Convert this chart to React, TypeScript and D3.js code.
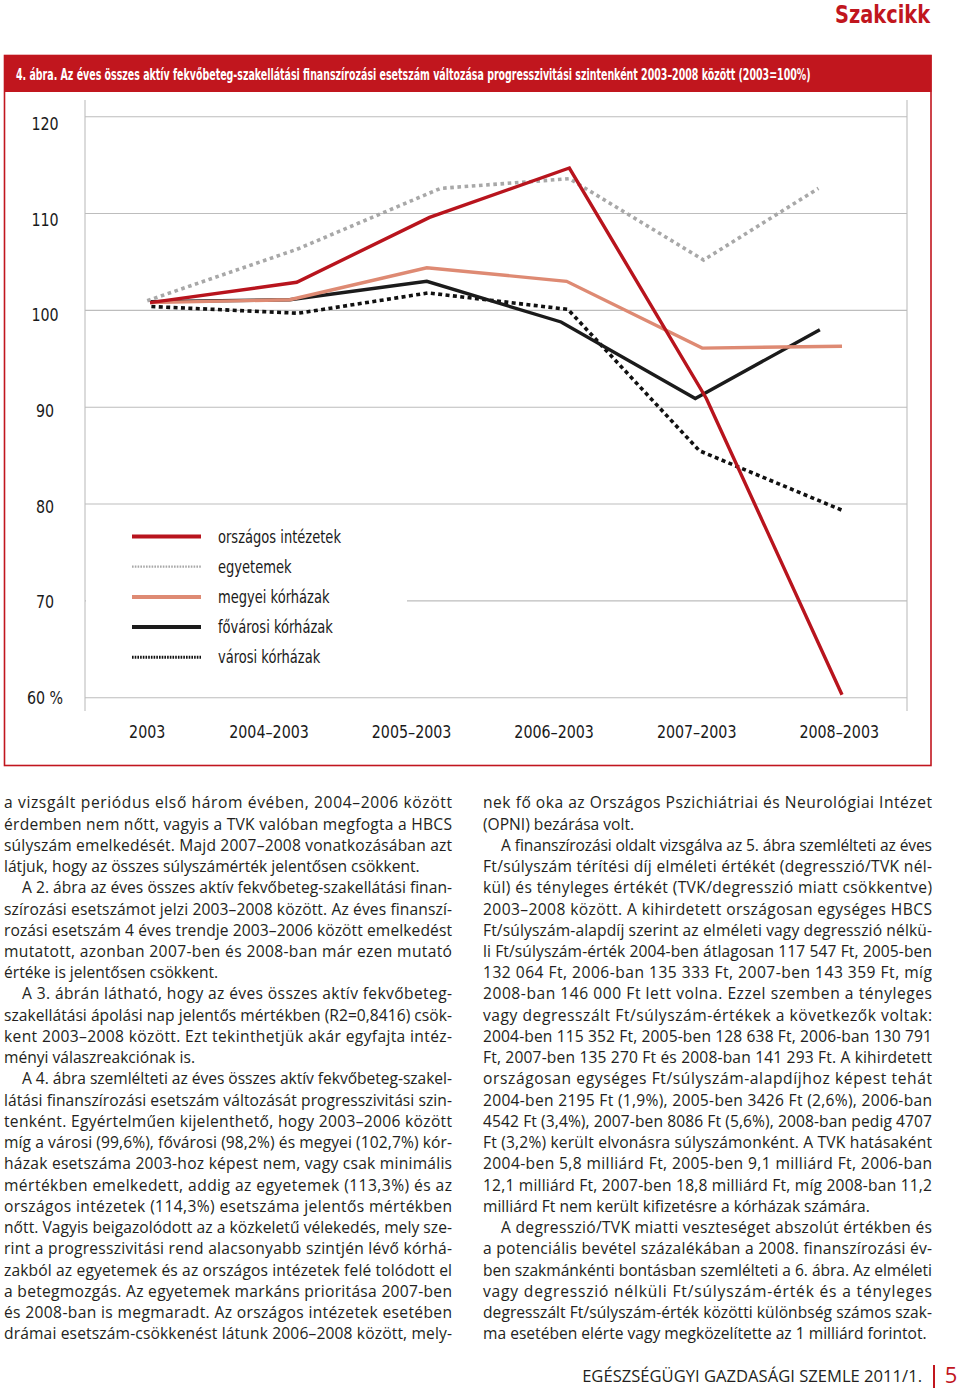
import React, { useLayoutEffect, useRef, useState } from "react";
import * as d3 from "d3";

// chart data (2003 = 100%)
const periods = ["2003", "2004–2003", "2005–2003", "2006–2003", "2007–2003", "2008–2003"];
// where each period label sits on the x index scale
const periodTickPos = [-0.02, 0.86, 1.89, 2.92, 3.95, 4.98];
const yTicks = [120, 110, 100, 90, 80, 70, 60];

const seriesNames = [
	"országos intézetek",
	"egyetemek",
	"megyei kórházak",
	"fővárosi kórházak",
	"városi kórházak",
];

// x index of each vertex (the original drawing is slightly hand placed) and value in %
const orszagosPos = [0, 1.06, 2.02, 3.03, 4.02, 5.0];
const orszagosVal = [100.8, 102.9, 109.6, 114.7, 90.9, 60.3];
const egyetemekPos = [-0.02, 1.06, 2.1, 3.03, 4.0, 4.83];
const egyetemekVal = [101.0, 106.3, 112.6, 113.6, 105.2, 112.6];
const megyeiPos = [0, 1.01, 2.0, 3.01, 3.99, 5.0];
const megyeiVal = [100.8, 101.1, 104.4, 103.0, 96.1, 96.3];
const fovarosiPos = [0, 1.01, 2.0, 2.97, 3.94, 4.84];
const fovarosiVal = [100.9, 101.1, 103.0, 98.8, 90.9, 98.0];
const varosiPos = [0.01, 1.07, 2.01, 3.02, 3.97, 5.01];
const varosiVal = [100.4, 99.7, 101.8, 100.1, 85.5, 79.3];

const seriesPos = [orszagosPos, egyetemekPos, megyeiPos, fovarosiPos, varosiPos];
const seriesVal = [orszagosVal, egyetemekVal, megyeiVal, fovarosiVal, varosiVal];

const title =
	"4. ábra. Az éves összes aktív fekvőbeteg-szakellátási finanszírozási esetszám változása progresszivitási szintenként 2003–2008 között (2003=100%)";

// body text, paragraphs as printed lines
const leftColumn: string[][] = [
	[
		"a vizsgált periódus első három évében, 2004–2006 között",
		"érdemben nem nőtt, vagyis a TVK valóban megfogta a HBCS",
		"súlyszám emelkedését. Majd 2007–2008 vonatkozásában azt",
		"látjuk, hogy az összes súlyszámérték jelentősen csökkent.",
	],
	[
		"A 2. ábra az éves összes aktív fekvőbeteg-szakellátási finan-",
		"szírozási esetszámot jelzi 2003–2008 között. Az éves finanszí-",
		"rozási esetszám 4 éves trendje 2003–2006 között emelkedést",
		"mutatott, azonban 2007-ben és 2008-ban már ezen mutató",
		"értéke is jelentősen csökkent.",
	],
	[
		"A 3. ábrán látható, hogy az éves összes aktív fekvőbeteg-",
		"szakellátási ápolási nap jelentős mértékben (R2=0,8416) csök-",
		"kent 2003–2008 között. Ezt tekinthetjük akár egyfajta intéz-",
		"ményi válaszreakciónak is.",
	],
	[
		"A 4. ábra szemlélteti az éves összes aktív fekvőbeteg-szakel-",
		"látási finanszírozási esetszám változását progresszivitási szin-",
		"tenként. Egyértelműen kijelenthető, hogy 2003–2006 között",
		"míg a városi (99,6%), fővárosi (98,2%) és megyei (102,7%) kór-",
		"házak esetszáma 2003-hoz képest nem, vagy csak minimális",
		"mértékben emelkedett, addig az egyetemek (113,3%) és az",
		"országos intézetek (114,3%) esetszáma jelentős mértékben",
		"nőtt. Vagyis beigazolódott az a közkeletű vélekedés, mely sze-",
		"rint a progresszivitási rend alacsonyabb szintjén lévő kórhá-",
		"zakból az egyetemek és az országos intézetek felé tolódott el",
		"a betegmozgás. Az egyetemek markáns prioritása 2007-ben",
		"és 2008-ban is megmaradt. Az országos intézetek esetében",
		"drámai esetszám-csökkenést látunk 2006–2008 között, mely-",
	],
];

const rightColumn: string[][] = [
	[
		"nek fő oka az Országos Pszichiátriai és Neurológiai Intézet",
		"(OPNI) bezárása volt.",
	],
	[
		"A finanszírozási oldalt vizsgálva az 5. ábra szemlélteti az éves",
		"Ft/súlyszám térítési díj elméleti értékét (degresszió/TVK nél-",
		"kül) és tényleges értékét (TVK/degresszió miatt csökkentve)",
		"2003–2008 között. A kihirdetett országosan egységes HBCS",
		"Ft/súlyszám-alapdíj szerint az elméleti vagy degresszió nélkü-",
		"li Ft/súlyszám-érték 2004-ben átlagosan 117 547 Ft, 2005-ben",
		"132 064 Ft, 2006-ban 135 333 Ft, 2007-ben 143 359 Ft, míg",
		"2008-ban 146 000 Ft lett volna. Ezzel szemben a tényleges",
		"vagy degresszált Ft/súlyszám-értékek a következők voltak:",
		"2004-ben 115 352 Ft, 2005-ben 128 638 Ft, 2006-ban 130 791",
		"Ft, 2007-ben 135 270 Ft és 2008-ban 141 293 Ft. A kihirdetett",
		"országosan egységes Ft/súlyszám-alapdíjhoz képest tehát",
		"2004-ben 2195 Ft (1,9%), 2005-ben 3426 Ft (2,6%), 2006-ban",
		"4542 Ft (3,4%), 2007-ben 8086 Ft (5,6%), 2008-ban pedig 4707",
		"Ft (3,2%) került elvonásra súlyszámonként. A TVK hatásaként",
		"2004-ben 5,8 milliárd Ft, 2005-ben 9,1 milliárd Ft, 2006-ban",
		"12,1 milliárd Ft, 2007-ben 18,8 milliárd Ft, míg 2008-ban 11,2",
		"milliárd Ft nem került kifizetésre a kórházak számára.",
	],
	[
		"A degresszió/TVK miatti veszteséget abszolút értékben és",
		"a potenciális bevétel százalékában a 2008. finanszírozási év-",
		"ben szakmánkénti bontásban szemlélteti a 6. ábra. Az elméleti",
		"vagy degresszió nélküli Ft/súlyszám-érték és a tényleges",
		"degresszált Ft/súlyszám-érték közötti különbség számos szak-",
		"ma esetében elérte vagy megközelítette az 1 milliárd forintot.",
	],
];

const footerText = "EGÉSZSÉGÜGYI GAZDASÁGI SZEMLE 2011/1.";
const pageNumber = "5";

// styles
const RED = "#c1161e";
const NARROW = "'DejaVu Sans', sans-serif";
const BODY = "'Open Sans', 'Noto Sans', sans-serif";
const TEXT_COLOR = "#231f20";
const narrowStyle: React.CSSProperties = { fontStretch: "condensed" };
const AXIS_SQUEEZE = 0.88; // the original's label face is narrower than DejaVu Condensed
const LEGEND_SQUEEZE = 0.83;

const seriesStyle = [
	{ color: "#b8141d", width: 3.4, dash: "none", legendWidth: 4, legendDash: "none" },
	{ color: "#a8a8a8", width: 3.6, dash: "3.6 3.6", legendWidth: 2.2, legendDash: "1.6 1.2" },
	{ color: "#de8a73", width: 3.4, dash: "none", legendWidth: 4, legendDash: "none" },
	{ color: "#1b1b1b", width: 3.4, dash: "none", legendWidth: 4, legendDash: "none" },
	{ color: "#111111", width: 3.6, dash: "4 3.4", legendWidth: 3, legendDash: "1.6 1.1" },
];

// text squeezed horizontally to a given width (measured after mount)
function FitText({ x, y, width, children, ...rest }: any) {
	const ref = useRef<SVGTextElement | null>(null);
	const [sx, setSx] = useState(1);
	useLayoutEffect(() => {
		if (!ref.current) return;
		const w = ref.current.getBBox().width;
		if (w > 0) setSx(width / w);
	}, [width, children]);
	return (
		<text ref={ref} transform={`translate(${x},${y}) scale(${sx},1)`} {...rest}>
			{children}
		</text>
	);
}

function Column({ paragraphs, x0, width, y0, lineH, continues }: {
	paragraphs: string[][];
	x0: number;
	width: number;
	y0: number;
	lineH: number;
	continues: boolean;
}) {
	const indent = 18;
	const rows: React.ReactNode[] = [];
	let n = 0;
	paragraphs.forEach((para, pi) => {
		para.forEach((line, li) => {
			const isFirst = li === 0 && pi !== 0;
			const isLast = li === para.length - 1 && !(continues && pi === paragraphs.length - 1);
			const x = x0 + (isFirst ? indent : 0);
			const w = width - (isFirst ? indent : 0);
			rows.push(
				<text
					key={`${pi}-${li}`}
					x={x}
					y={y0 + n * lineH}
					{...(isLast ? {} : { textLength: w, lengthAdjust: "spacing" })}
				>
					{line}
				</text>
			);
			n++;
		});
	});
	return (
		<g fontFamily={BODY} fontSize={15.6} fill={TEXT_COLOR}>
			{rows}
		</g>
	);
}

export default function App() {
	const W = 960;
	const H = 1389;

	// plot geometry
	const plot = { left: 85, right: 907, top: 100, bottom: 711 };
	const x = d3.scaleLinear().domain([0, 5]).range([150, 842]);
	const y = d3.scaleLinear().domain([60, 120]).range([697.7, 116.7]);
	// tick labels sit on a slightly tighter step than the grid in the original
	const yLabel = d3.scaleLinear().domain([60, 120]).range([704, 130]);

	const line = d3
		.line<[number, number]>()
		.x((d) => x(d[0]))
		.y((d) => y(d[1]));

	const legend = { x1: 132, x2: 201, tx: 218, y0: 536.5, step: 30.2 };

	return (
		<svg
			width={W}
			height={H}
			viewBox={`0 0 ${W} ${H}`}
			style={{ position: "absolute", left: 0, top: 0, background: "#fff" }}
		>
			<rect x={0} y={0} width={W} height={H} fill="#fff" />

			{/* running head */}
			<FitText
				x={835}
				y={23}
				width={96}
				fontFamily={NARROW}
				fontWeight="bold"
				fontSize={25}
				fill={RED}
				style={narrowStyle}
			>
				Szakcikk
			</FitText>

			{/* figure frame */}
			<rect x={4.5} y={55.5} width={926.5} height={710} fill="none" stroke={RED} strokeWidth={1.6} />
			<rect x={4} y={55} width={927.5} height={37} fill={RED} />
			<FitText
				x={16}
				y={80}
				width={795}
				fontFamily={NARROW}
				fontWeight="bold"
				fontSize={16.5}
				fill="#fff"
				style={narrowStyle}
			>
				{title}
			</FitText>

			{/* grid */}
			<g stroke="#bdbdbd" strokeWidth={1.1}>
				{yTicks.map((t) => (
					<line key={t} x1={plot.left} x2={plot.right} y1={y(t)} y2={y(t)} />
				))}
				<line x1={plot.left} x2={plot.left} y1={plot.top} y2={plot.bottom} />
				<line x1={plot.right} x2={plot.right} y1={plot.top} y2={plot.bottom} />
			</g>

			{/* y labels */}
			<g fontFamily={NARROW} fontSize={18} fill="#1a1a1a" textAnchor="middle" style={narrowStyle}>
				{yTicks.map((t) => (
					<text key={t} transform={`translate(45,${yLabel(t)}) scale(${AXIS_SQUEEZE},1)`}>
						{t === 60 ? "60 %" : t}
					</text>
				))}
			</g>

			{/* x labels */}
			<g fontFamily={NARROW} fontSize={18} fill="#1a1a1a" textAnchor="middle" style={narrowStyle}>
				{periods.map((p, i) => (
					<text key={p} transform={`translate(${x(periodTickPos[i])},738) scale(${AXIS_SQUEEZE},1)`}>
						{p}
					</text>
				))}
			</g>

			{/* legend (white box hides the grid behind it) */}
			<rect x={86} y={516} width={321} height={172} fill="#fff" />

			{/* series */}
			<g fill="none" strokeLinejoin="miter" strokeLinecap="butt">
				{[4, 3, 2, 1, 0].map((si) => {
					const pts = seriesPos[si].map((p, i) => [p, seriesVal[si][i]] as [number, number]);
					const s = seriesStyle[si];
					return (
						<path
							key={seriesNames[si]}
							d={line(pts) ?? ""}
							stroke={s.color}
							strokeWidth={s.width}
							strokeDasharray={s.dash}
						/>
					);
				})}
			</g>

			<g>
				{seriesNames.map((name, i) => {
					const s = seriesStyle[i];
					const ly = legend.y0 + i * legend.step;
					return (
						<g key={name}>
							<line
								x1={legend.x1}
								x2={legend.x2}
								y1={ly}
								y2={ly}
								stroke={s.color}
								strokeWidth={s.legendWidth}
								strokeDasharray={s.legendDash}
							/>
							<text
								transform={`translate(${legend.tx},${ly + 6}) scale(${LEGEND_SQUEEZE},1)`}
								fontFamily={NARROW}
								fontSize={17.5}
								fill="#1a1a1a"
								style={narrowStyle}
							>
								{name}
							</text>
						</g>
					);
				})}
			</g>

			{/* body text */}
			<Column paragraphs={leftColumn} x0={4} width={448} y0={808.3} lineH={21.24} continues={true} />
			<Column paragraphs={rightColumn} x0={483} width={449} y0={808.3} lineH={21.24} continues={false} />

			{/* footer */}
			<text x={922} y={1382} textAnchor="end" fontFamily={BODY} fontSize={16.6} fill={TEXT_COLOR}>
				{footerText}
			</text>
			<line x1={934} x2={934} y1={1365} y2={1388} stroke={RED} strokeWidth={2} />
			<text x={951} y={1383} textAnchor="middle" fontFamily={BODY} fontSize={22} fill={RED}>
				{pageNumber}
			</text>
		</svg>
	);
}
